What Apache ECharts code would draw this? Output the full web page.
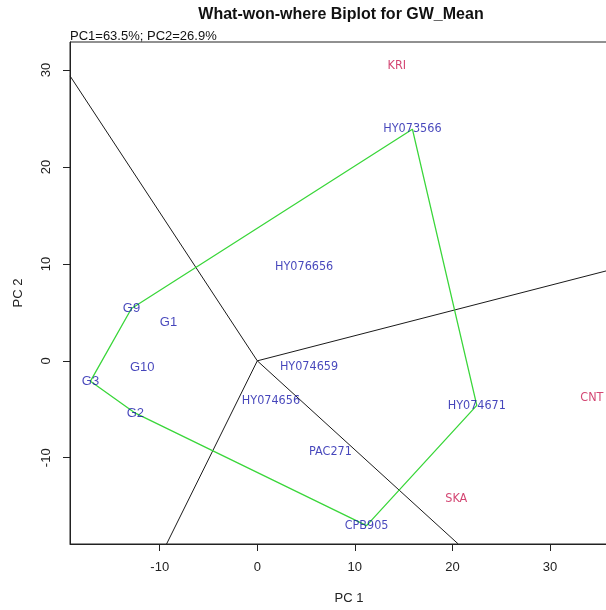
<!DOCTYPE html>
<html>
<head>
<meta charset="utf-8">
<script src="https://cdn.jsdelivr.net/npm/echarts@6/dist/echarts.min.js"></script>
<style>
  html, body { margin: 0; padding: 0; background: #fff; overflow: hidden; }
  #chart { width: 628px; height: 610px; }
</style>
</head>
<body>
<div id="chart"></div>
<script>
// Genotype scores (PC1, PC2)
const genotypes = ['HY073566', 'HY076656', 'G9', 'G1', 'G10', 'G3', 'G2', 'HY074659', 'HY074656', 'PAC271', 'CPB905', 'HY074671'];
const genoPC1 = [15.9, 4.8, -12.9, -9.1, -11.8, -17.1, -12.5, 5.3, 1.4, 7.5, 11.2, 22.5];
const genoPC2 = [23.9, 9.7, 5.4, 4.0, -0.7, -2.1, -5.4, -0.6, -4.1, -9.4, -17.0, -4.6];

// Environment scores (PC1, PC2)
const environments = ['KRI', 'CNT', 'SKA'];
const envPC1 = [14.3, 34.3, 20.4];
const envPC2 = [30.5, -3.8, -14.2];

// Convex hull of the vertex genotypes (closed)
const hullOrder = ['G9', 'HY073566', 'HY074671', 'CPB905', 'G2', 'G3', 'G9'];

// Sector boundaries: rays from the origin, perpendicular to the hull sides
const rayEndPC1 = [-19.2, 38.0, 20.6, -9.3];
const rayEndPC2 = [29.4, 9.86, -18.9, -18.9];

// Axis tick labels
const xTicks = [-10, 0, 10, 20, 30];
const yTicks = [-10, 0, 10, 20, 30];

// Genotype names drawn in the regular sans face
const plainFaceNames = ['G9', 'G1', 'G10', 'G3', 'G2'];

const chart = echarts.init(document.getElementById('chart'));

const sansFont = '"Liberation Sans", Arial, sans-serif';
const narrowFont = '"DejaVu Sans Condensed", "Liberation Sans Narrow", sans-serif';
const blue = '#1616aa';
const red = '#c8164f';

const hullData = hullOrder.map(n => {
  const i = genotypes.indexOf(n);
  return [genoPC1[i], genoPC2[i]];
});

const raySeries = rayEndPC1.map((x, i) => ({
  type: 'line',
  data: [[0, 0], [x, rayEndPC2[i]]],
  symbol: 'none',
  clip: true,
  lineStyle: { color: '#1a1a1a', width: 1 },
  z: 2,
  silent: true
}));

function labelData(names, xs, ys) {
  return names.map((n, i) => {
    const d = { name: n, value: [xs[i], ys[i]] };
    if (plainFaceNames.indexOf(n) >= 0) {
      d.label = { fontFamily: sansFont, fontSize: 13 };
    }
    return d;
  });
}

const axisCommon = {
  type: 'value',
  axisLine: { show: true, onZero: false, lineStyle: { color: '#222', width: 1 } },
  splitLine: { show: false },
  nameLocation: 'middle',
  nameTextStyle: { fontFamily: sansFont, fontSize: 13, color: '#222' }
};

const tickStyle = { show: true, inside: false, length: 7, lineStyle: { color: '#222' } };
const tickLabelStyle = { margin: 17, fontFamily: sansFont, fontSize: 13, color: '#222' };

chart.setOption({
  animation: false,
  backgroundColor: '#fff',
  grid: {
    left: 70, top: 42, right: 0, bottom: 66,
    show: true, borderColor: '#222', borderWidth: 1, backgroundColor: 'transparent'
  },
  graphic: [
    {
      type: 'text', x: 341, y: 15,
      style: {
        text: 'What-won-where Biplot for GW_Mean',
        align: 'center', verticalAlign: 'middle',
        font: 'bold 16px "Liberation Sans", Arial, sans-serif', fill: '#111'
      }
    },
    {
      type: 'text', x: 70, y: 36.5,
      style: {
        text: 'PC1=63.5%; PC2=26.9%',
        align: 'left', verticalAlign: 'middle',
        font: '13px "Liberation Sans", Arial, sans-serif', fill: '#111'
      }
    }
  ],
  xAxis: Object.assign({}, axisCommon, {
    min: -19.2, max: 38.0,
    name: 'PC 1', nameGap: 48,
    axisTick: Object.assign({ customValues: xTicks }, tickStyle),
    axisLabel: Object.assign({ customValues: xTicks }, tickLabelStyle)
  }),
  yAxis: Object.assign({}, axisCommon, {
    min: -18.9, max: 32.9,
    name: 'PC 2', nameGap: 45,
    axisTick: Object.assign({ customValues: yTicks }, tickStyle),
    axisLabel: Object.assign({ customValues: yTicks, rotate: 90 }, tickLabelStyle)
  }),
  series: [
    {
      type: 'line',
      data: hullData,
      symbol: 'none',
      lineStyle: { color: '#3ad63a', width: 1.3 },
      z: 3,
      silent: true
    },
    ...raySeries,
    {
      type: 'scatter',
      data: labelData(genotypes, genoPC1, genoPC2),
      symbolSize: 1,
      itemStyle: { color: 'rgba(0,0,0,0)' },
      z: 5,
      silent: true,
      label: {
        show: true,
        position: 'inside',
        formatter: p => p.name,
        color: blue,
        fontSize: 12.5,
        fontFamily: narrowFont
      }
    },
    {
      type: 'scatter',
      data: labelData(environments, envPC1, envPC2),
      symbolSize: 1,
      itemStyle: { color: 'rgba(0,0,0,0)' },
      z: 5,
      silent: true,
      label: {
        show: true,
        position: 'inside',
        formatter: p => p.name,
        color: red,
        fontSize: 12.5,
        fontFamily: narrowFont
      }
    }
  ]
});
</script>
</body>
</html>
